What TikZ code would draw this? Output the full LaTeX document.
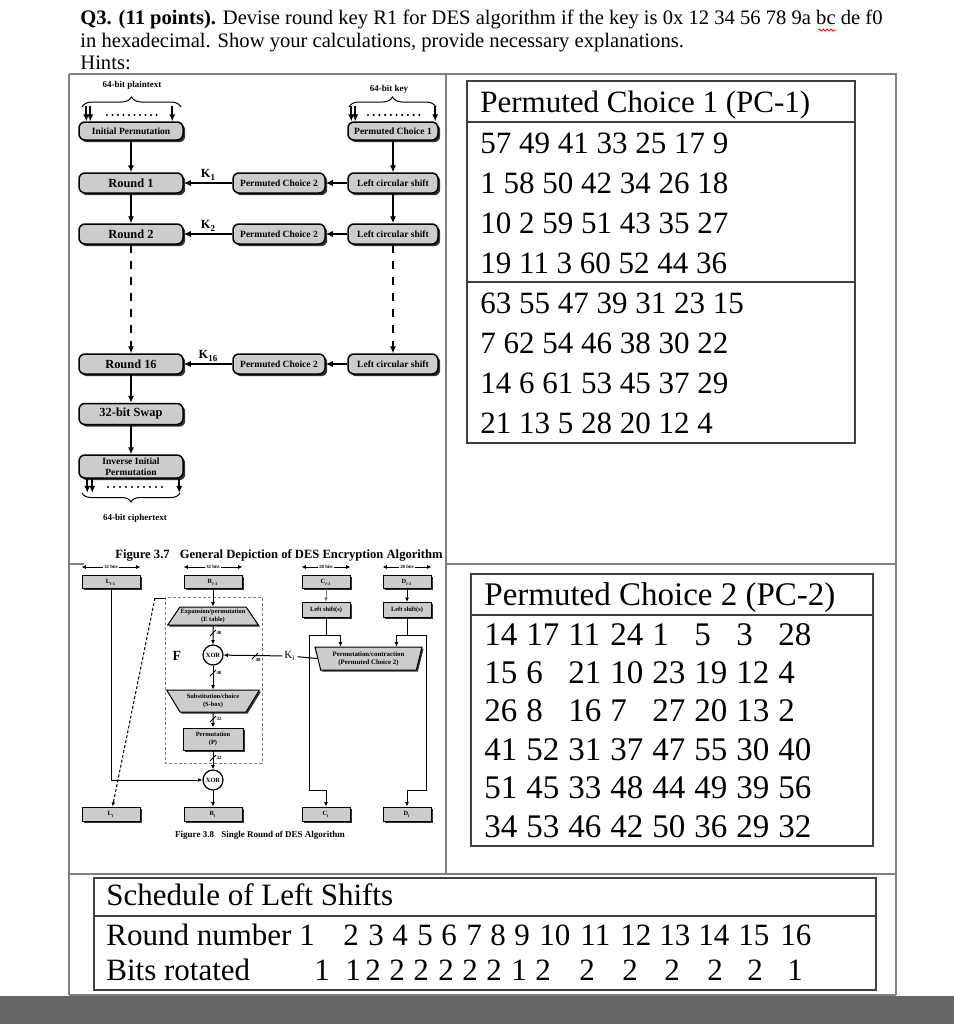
\documentclass[tikz,border=0pt]{standalone}
\usepackage{fontspec}
\setmainfont{Liberation Serif}
\usetikzlibrary{arrows.meta,shapes.geometric,shadows,decorations.pathreplacing,decorations.pathmorphing,positioning}

\definecolor{boxgray}{gray}{0.80}
\definecolor{rulegray}{gray}{0.50}
\definecolor{bargray}{gray}{0.40}

\newcommand{\setsz}[2]{\fontsize{#1}{#2}\selectfont}
% 总线宽度标记
\newcommand{\bussl}[4]{%
  \draw (#1-3,#2+3) -- (#1+3,#2-3);
  \node[tinylbl, anchor=west] (#4) at (#1+2,#2) {#3};}

\tikzset{
  ttl/.style={inner sep=0pt, font=\setsz{10.3}{12}},
  rbox/.style={draw, line width=0.75pt, fill=boxgray, rounded corners=3pt, inner sep=0pt, align=center,
    drop shadow={shadow xshift=1.1pt, shadow yshift=-1.1pt, fill=black!80, opacity=1}},
  lbox/.style={rbox, minimum width=52pt, minimum height=9pt, font=\bfseries\setsz{4.75}{5.4}},
  rndbox/.style={rbox, minimum width=52pt, minimum height=10pt, font=\bfseries\setsz{6.2}{7}},
  kbox/.style={rbox, minimum width=45pt, minimum height=10pt, font=\bfseries\setsz{4.75}{5.4}},
  klbl/.style={anchor=south, inner sep=1pt, font=\bfseries\setsz{6.2}{7}},
  bitlbl/.style={inner sep=0pt, font=\bfseries\setsz{4.5}{5}},
  fbox/.style={draw, line width=0.5pt, fill=boxgray, inner sep=0pt, align=center,
    drop shadow={shadow xshift=0.8pt, shadow yshift=-0.8pt, fill=black!80, opacity=1},
    font=\bfseries\setsz{3.2}{3.7}},
  regbox/.style={fbox, minimum width=29pt, minimum height=6.5pt},
  keybox/.style={fbox, minimum width=24pt, minimum height=6.5pt},
  trap/.style={fbox, shape=trapezium, trapezium stretches=true},
  xorc/.style={draw, circle, fill=white, line width=0.6pt, minimum size=10pt, inner sep=0pt, font=\bfseries\setsz{3.2}{3.7}},
  tinylbl/.style={inner sep=0.5pt, font=\bfseries\setsz{2.4}{2.7}},
  pctxt/.style={anchor=base west, inner sep=0pt},
}

\begin{document}
\begin{tikzpicture}[x=0.5pt, y=-0.5pt, >={Latex[length=3.5pt,width=3.2pt]}]
\useasboundingbox (0,0) rectangle (954,1024);

% 表格框线
\fill[bargray] (0,996) rectangle (954,1024);
\draw[rulegray, line width=0.6pt] (69,74) -- (897,74) (69,74) -- (69,995) (446,74) -- (446,874)
  (896,74) -- (896,995) (69,874) -- (896,874) (69,995) -- (896,995) (69,564) -- (84,564) (446,564) -- (896,564);

% 题目
\node[ttl, anchor=base west] (q1) at (80,24) {\textbf{Q3. (11 points).} Devise round key R1 for DES algorithm if the key is 0x 12 34 56 78 9a bc de f0};
\node[ttl, anchor=base west] (q2) at (80,47) {in hexadecimal. Show your calculations, provide necessary explanations.};
\node[ttl, anchor=base west] (q3) at (80,69) {Hints:};
\draw[red, line width=0.4pt, decorate, decoration={snake, amplitude=0.5pt, segment length=2pt}] (818,30) -- (836,30);

% 图 3.7
\begin{scope}[line width=0.9pt]
\node[lbox] (ip) at (131,131) {Initial Permutation};
\node[rndbox] (r1) at (131,183) {Round 1};
\node[rndbox] (r2) at (131,234) {Round 2};
\node[rndbox] (r16) at (131,364) {Round 16};
\node[rndbox, minimum height=10.5pt] (swap) at (131,414) {32-bit Swap};
\node[lbox, minimum height=11.5pt] (iip) at (131,466.5) {Inverse Initial\\Permutation};

\node[kbox, minimum height=9pt] (pc1) at (393,131) {Permuted Choice 1};
\node[kbox] (ls1) at (393,183) {Left circular shift};
\node[kbox] (ls2) at (393,234) {Left circular shift};
\node[kbox] (ls16) at (393,364) {Left circular shift};
\node[kbox, minimum width=46pt] (pcb1) at (279,183) {Permuted Choice 2};
\node[kbox, minimum width=46pt] (pcb2) at (279,234) {Permuted Choice 2};
\node[kbox, minimum width=46pt] (pcb16) at (279,364) {Permuted Choice 2};

\draw[->] (ip) -- (r1);
\draw[->] (r1) -- (r2);
\draw[->, dash pattern=on 4pt off 4pt] (r2) -- (r16);
\draw[->] (r16) -- (swap);
\draw[->] (swap) -- (iip);
\draw[->] (pc1) -- (ls1);
\draw[->] (ls1) -- (ls2);
\draw[->, dash pattern=on 4pt off 4pt] (ls2) -- (ls16);
\draw[->] (ls1) -- (pcb1);
\draw[->] (ls2) -- (pcb2);
\draw[->] (ls16) -- (pcb16);
\draw[->] (pcb1) -- node[klbl] {K\raisebox{-0.4ex}{\setsz{4.5}{5}1}} (r1);
\draw[->] (pcb2) -- node[klbl] {K\raisebox{-0.4ex}{\setsz{4.5}{5}2}} (r2);
\draw[->] (pcb16) -- node[klbl] {K\raisebox{-0.4ex}{\setsz{4.5}{5}16}} (r16);

% 输入输出
\node[bitlbl] (pt) at (132,85) {64-bit plaintext};
\node[bitlbl] (kt) at (389,89) {64-bit key};
\node[bitlbl] (ct) at (135,518) {64-bit ciphertext};
\draw[line width=0.5pt, decorate, decoration={brace, amplitude=5pt}] (82,107) -- (181,107);
\draw[line width=0.5pt, decorate, decoration={brace, amplitude=5pt}] (349,107) -- (436,107);
\draw[line width=0.5pt, decorate, decoration={brace, amplitude=4.5pt}] (180,493) -- (82,493);
\foreach \d in {4,6,47}
  \draw[->] ([xshift=\d pt, yshift=7.5pt]ip.north west) -- ([xshift=\d pt]ip.north west);
\foreach \d in {2,4,44}
  \draw[->] ([xshift=\d pt, yshift=7.5pt]pc1.north west) -- ([xshift=\d pt]pc1.north west);
\foreach \d in {4.5,7,50.5}
  \draw[->] ([xshift=\d pt]iip.south west) -- ([xshift=\d pt, yshift=-7pt]iip.south west);
\foreach \i in {0,...,9} {
  \fill (107+5.5*\i,115) circle (0.6pt);
  \fill (368+5.7*\i,115) circle (0.6pt);
  \fill (108+6*\i,487) circle (0.6pt);
}
\node[inner sep=0pt, font=\bfseries\setsz{6.3}{7}] (cap7) at (279,555) {Figure 3.7\hspace{0.8em}General Depiction of DES Encryption Algorithm};
\end{scope}

% 图 3.8
\begin{scope}[line width=0.5pt, >={Latex[length=2.2pt,width=2pt]}]
\draw[gray, dash pattern=on 1.5pt off 1pt] (165,597) rectangle (262,763);
\node[regbox] (lprev) at (111,582) {L\textsubscript{\textit{i}-1}};
\node[regbox] (rprev) at (213,582) {R\textsubscript{\textit{i}-1}};
\node[keybox] (cprev) at (326,582) {C\textsubscript{\textit{i}-1}};
\node[keybox] (dprev) at (407,582) {D\textsubscript{\textit{i}-1}};
\node[keybox, minimum height=7.5pt] (lsc) at (326,610) {Left shift(s)};
\node[keybox, minimum height=7.5pt] (lsd) at (407,610) {Left shift(s)};
\node[trap, trapezium left angle=48, trapezium right angle=48, minimum width=45.5pt, minimum height=9pt] (expn) at (213,616) {Expansion/permutation\\(E table)};
\node[xorc] (xora) at (213,655) {XOR};
\node[trap, trapezium left angle=129, trapezium right angle=129, minimum width=46.5pt, minimum height=11pt] (sbx) at (213,701) {Substitution/choice\\(S-box)};
\node[fbox, minimum width=30pt, minimum height=11pt] (perm) at (213,739) {Permutation\\(P)};
\node[xorc] (xorb) at (213,780) {XOR};
\node[trap, trapezium left angle=107, trapezium right angle=107, minimum width=53.5pt, minimum height=11.5pt, font=\bfseries\setsz{3.4}{3.9}] (pcc) at (368.5,658.5) {Permutation/contraction\\(Permuted Choice 2)};
\node[regbox, minimum height=7pt] (lnew) at (111,814) {L\textsubscript{\textit{i}}};
\node[regbox, minimum height=7pt] (rnew) at (213,814) {R\textsubscript{\textit{i}}};
\node[keybox, minimum height=7pt] (cnew) at (326,814) {C\textsubscript{\textit{i}}};
\node[keybox, minimum height=7pt] (dnew) at (407,814) {D\textsubscript{\textit{i}}};
\node[inner sep=0pt, font=\bfseries\setsz{7}{7}] (flbl) at (177,656) {F};
\node[inner sep=0.8pt, font=\setsz{5.5}{6}] (ki) at (290,656) {K\textsubscript{\textit{i}}};

\foreach \n/\t in {lprev/32 bits, rprev/32 bits, cprev/28 bits, dprev/28 bits}
  \draw[<->] ([yshift=4pt]\n.north west) -- node[tinylbl, fill=white] (w-\n) {\t} ([yshift=4pt]\n.north east);

\draw[->] (rprev) -- (expn);
\draw[->] (expn) -- (xora);
\draw[->] (xora) -- (sbx);
\draw[->] (sbx) -- (perm);
\draw[->] (perm) -- (xorb);
\draw[->] (xorb) -- (rnew);
\draw[->] (lprev) |- (xorb);
\bussl{213}{633}{48}{b1}
\bussl{213}{673}{48}{b2}
\bussl{213}{719}{32}{b3}
\bussl{213}{758}{32}{b4}

\draw[->, gray] (cprev) -- (lsc);
\draw[->] (dprev) -- (lsd);
\coordinate (cj) at (326,635);
\coordinate (dj) at (407,635);
\draw (lsc) -- (cj);
\draw[->] (cj) -| ([xshift=-14pt]pcc.north);
\draw[->] (cj) -| (309,790) -| (cnew);
\draw (lsd) -- (dj);
\draw[->] (dj) -| ([xshift=14pt]pcc.north);
\draw[->] (dj) -| (426,790) -| (dnew);
\draw (pcc.west) -- (ki);
\draw[->] (ki) -- (xora);
\draw (252,659) -- (258,653);
\node[tinylbl, anchor=north west] (b5) at (254,657) {48};

\coordinate (ftl) at (165,598);
\coordinate (rtap) at (155,598);
\draw (ftl) -- (rtap);
\draw[->, dash pattern=on 1.5pt off 1pt] (rtap) -- (lnew);

\node[inner sep=0pt, font=\bfseries\setsz{4.5}{5}] (cap8) at (260,835) {Figure 3.8\hspace{0.8em}Single Round of DES Algorithm};
\end{scope}

% PC-1 表
\draw[black!75, line width=0.8pt] (467,81) rectangle (855,443) (467,122) -- (855,122) (467,282) -- (855,282);
\node[pctxt, font=\setsz{15.5}{17}] (pcah) at (480,112) {Permuted Choice 1 (PC-1)};
\foreach \row [count=\k from 0] in {{57 49 41 33 25 17 9}, {1 58 50 42 34 26 18}, {10 2 59 51 43 35 27},
    {19 11 3 60 52 44 36}, {63 55 47 39 31 23 15}, {7 62 54 46 38 30 22}, {14 6 61 53 45 37 29}, {21 13 5 28 20 12 4}}
  \node[pctxt, font=\setsz{15.5}{17}] (pca-\k) at (480,153+40*\k) {\row};

% PC-2 表
\draw[black!75, line width=0.8pt] (471,574) rectangle (873,846) (471,615) -- (873,615);
\node[pctxt, font=\setsz{16.5}{18}] (pcbh) at (484,605) {Permuted Choice 2 (PC-2)};
\foreach \row [count=\r from 0] in {{14,17,11,24,1,5,3,28}, {15,6,21,10,23,19,12,4}, {26,8,16,7,27,20,13,2},
    {41,52,31,37,47,55,30,40}, {51,45,33,48,44,49,39,56}, {34,53,46,42,50,36,29,32}}
  \foreach \v [count=\c from 0] in \row
    \node[pctxt, font=\setsz{16.5}{18}] (pcb-\r-\c) at (484+42*\c,645+38.4*\r) {\v};

% 左移表
\draw[black!75, line width=0.8pt] (94,878) rectangle (876,990) (94,916) -- (876,916);
\node[pctxt, font=\setsz{15.5}{17}] (sch) at (106,905) {Schedule of Left Shifts};
\node[pctxt, font=\setsz{15.5}{17}] (rn) at (106,945) {Round number 1};
\node[pctxt, font=\setsz{15.5}{17}] (br) at (106,980) {Bits rotated};
\foreach \x/\n in {343/2,368/3,392/4,417/5,441/6,466/7,490/8,514/9,539/10,580/11,620/12,659/13,698/14,738/15,780/16}
  \node[pctxt, font=\setsz{15.5}{17}] (rn-\n) at (\x,945) {\n};
\foreach \x/\b [count=\k] in {314/1,345/1,365/2,389/2,413/2,438/2,462/2,486/2,511/1,535/2,579/2,622/2,664/2,707/2,747/2,787/1}
  \node[pctxt, font=\setsz{15.5}{17}] (br-\k) at (\x,980) {\b};
\end{tikzpicture}
\end{document}
